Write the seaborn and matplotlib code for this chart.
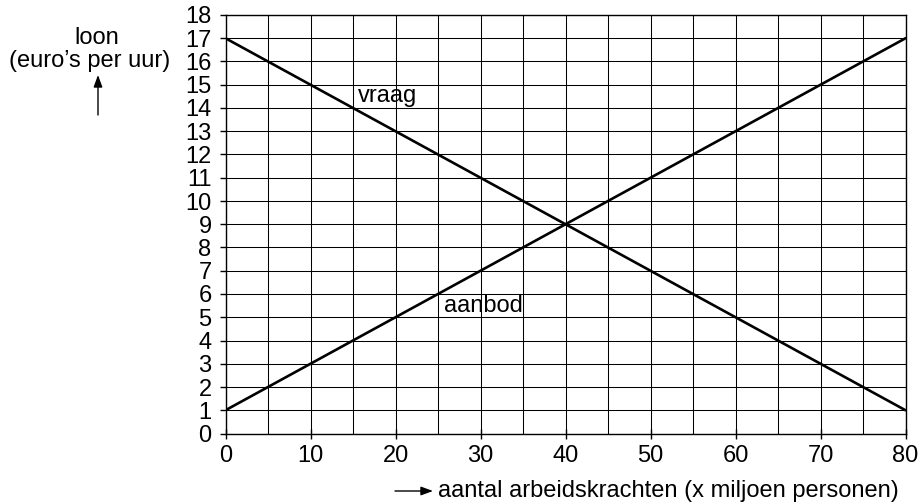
import matplotlib
matplotlib.use("Agg")
import matplotlib.pyplot as plt
import seaborn as sns
import pandas as pd
import numpy as np

# data
x_points = [0, 80]
vraag = [17, 1]
aanbod = [1, 17]
x_ticks = [0, 10, 20, 30, 40, 50, 60, 70, 80]
y_ticks = list(range(0, 19))

sns.set_theme(style="white")
plt.rcParams['font.family'] = ['Liberation Sans', 'DejaVu Sans']
plt.rcParams['text.color'] = 'black'
plt.rcParams['xtick.color'] = 'black'
plt.rcParams['ytick.color'] = 'black'
plt.rcParams['xtick.labelcolor'] = 'black'
plt.rcParams['ytick.labelcolor'] = 'black'

FS = 17

df = pd.DataFrame({
    "x": x_points * 2,
    "y": vraag + aanbod,
    "curve": ["vraag"] * 2 + ["aanbod"] * 2,
})

fig = plt.figure(figsize=(9.22, 5.04), dpi=100)
ax = fig.add_axes([225.5 / 922, (504 - 433.5) / 504, 680 / 922, 418.5 / 504])

sns.lineplot(data=df, x="x", y="y", units="curve", estimator=None,
             color="black", linewidth=1.9, ax=ax, legend=False)

ax.set_xlim(0, 80)
ax.set_ylim(0, 18)
ax.set_xticks(x_ticks)
ax.set_xticks(np.arange(0, 81, 5), minor=True)
ax.set_yticks(y_ticks)
ax.grid(True, which="both", color="black", linewidth=0.75)
ax.set_axisbelow(True)
for s in ax.spines.values():
    s.set_color("black")
    s.set_linewidth(1.0)
ax.tick_params(axis="x", which="major", direction="inout", length=7, width=1,
               color="black", labelcolor="black", labelsize=FS, pad=5, bottom=True)
ax.tick_params(axis="x", which="minor", length=0)
ax.tick_params(axis="y", direction="out", length=4.5, width=1, color="black",
               labelcolor="black", labelsize=FS, pad=5.5, left=True)
ax.set_xlabel("")
ax.set_ylabel("")

ax.text(15.6, 14.25, "vraag", fontsize=FS, ha="left", va="baseline", color="black")
ax.text(25.7, 5.21, "aanbod", fontsize=FS, ha="left", va="baseline", color="black")

fig.text(97 / 922, 1 - 43.5 / 504, "loon", fontsize=FS, ha="center", va="baseline", color="black")
fig.text(90 / 922, 1 - 66.5 / 504, "(euro’s per uur)", fontsize=FS, ha="center",
         va="baseline", color="black")
fig.add_artist(matplotlib.patches.FancyArrowPatch(
    (98 / 922, 1 - 115 / 504), (98 / 922, 1 - 75 / 504),
    transform=fig.transFigure, arrowstyle="-|>,head_length=0.6,head_width=0.22",
    mutation_scale=12, color="black", linewidth=1.0, shrinkA=0, shrinkB=0))

fig.add_artist(matplotlib.patches.FancyArrowPatch(
    (395 / 922, 1 - 491 / 504), (433 / 922, 1 - 491 / 504),
    transform=fig.transFigure, arrowstyle="-|>,head_length=0.6,head_width=0.22",
    mutation_scale=12, color="black", linewidth=1.0, shrinkA=0, shrinkB=0))
fig.text(438 / 922, 1 - 497 / 504, "aantal arbeidskrachten (x miljoen personen)",
         fontsize=FS, ha="left", va="baseline", color="black")

fig.savefig("out.png", dpi=100)
